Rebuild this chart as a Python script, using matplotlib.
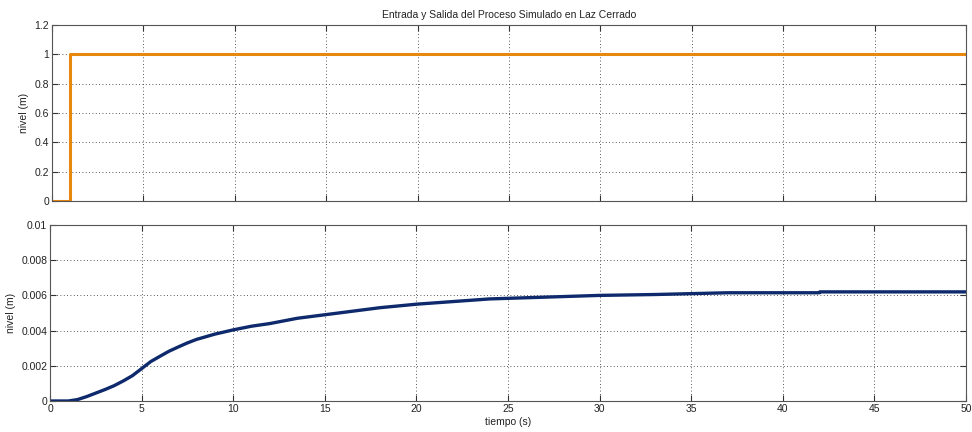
import matplotlib
matplotlib.use("Agg")
import matplotlib.pyplot as plt

# entrada (escalon)
t_in = [0, 1.0, 1.0, 50]
u_in = [0, 0, 1, 1]

# salida del proceso
t_out = [0, 1.0, 1.5, 2, 2.5, 3, 3.5, 4, 4.5, 5, 5.5, 6, 6.5, 7, 7.5, 8, 9, 10, 11, 12, 13.5, 15,
         16.5, 18, 20, 22, 24, 27, 30, 33, 35, 37, 42, 42.01, 50]
y_out = [0, 0, 0.00008, 0.00025, 0.00045, 0.00065, 0.00087, 0.00114, 0.00144, 0.00184, 0.00224,
         0.00254, 0.00283, 0.00307, 0.0033, 0.0035, 0.0038, 0.00404, 0.00425, 0.0044, 0.0047,
         0.0049, 0.0051, 0.0053, 0.0055, 0.00565, 0.0058, 0.0059, 0.0060, 0.00605, 0.0061,
         0.00615, 0.00615, 0.0062, 0.0062]

plt.rcParams['font.family'] = ['Liberation Sans', 'DejaVu Sans']
plt.rcParams['font.size'] = 7

fig = plt.figure(figsize=(9.72, 4.32), dpi=100)
ax1 = fig.add_axes([52/972, 1-201/432, 914/972, 176/432])
ax2 = fig.add_axes([50/972, 1-401/432, 916/972, 176/432])

for ax in (ax1, ax2):
    ax.set_xlim(0, 50)
    ax.grid(True, linestyle=(0, (1, 3)), color='#222222', linewidth=0.6)
    ax.tick_params(direction='in', top=True, right=True, length=4, width=0.8,
                   color='#333333', labelcolor='#222222', labelsize=7.5, pad=2)
    for s in ax.spines.values():
        s.set_color('#555555')
        s.set_linewidth(0.8)
    ax.set_xticks(range(0, 51, 5))
    ax.set_ylabel('nivel (m)', fontsize=7.5, color='#222222')

ax1.plot(t_in, u_in, color='#E8870E', linewidth=2.2)
ax1.set_ylim(0, 1.2)
ax1.set_yticks([0, 0.2, 0.4, 0.6, 0.8, 1, 1.2])
ax1.set_yticklabels(['0', '0.2', '0.4', '0.6', '0.8', '1', '1.2'])
ax1.set_xticklabels([])
ax1.set_title('Entrada y Salida del Proceso Simulado en Laz Cerrado', fontsize=7.5,
              color='#222222', pad=5)

ax2.plot(t_out, y_out, color='#0E2A6C', linewidth=2.4)
ax2.set_ylim(0, 0.01)
ax2.set_yticks([0, 0.002, 0.004, 0.006, 0.008, 0.01])
ax2.set_yticklabels(['0', '0.002', '0.004', '0.006', '0.008', '0.01'])
ax2.set_xlabel('tiempo (s)', fontsize=7.5, color='#222222', labelpad=2)

fig.savefig('out.png', dpi=100)
